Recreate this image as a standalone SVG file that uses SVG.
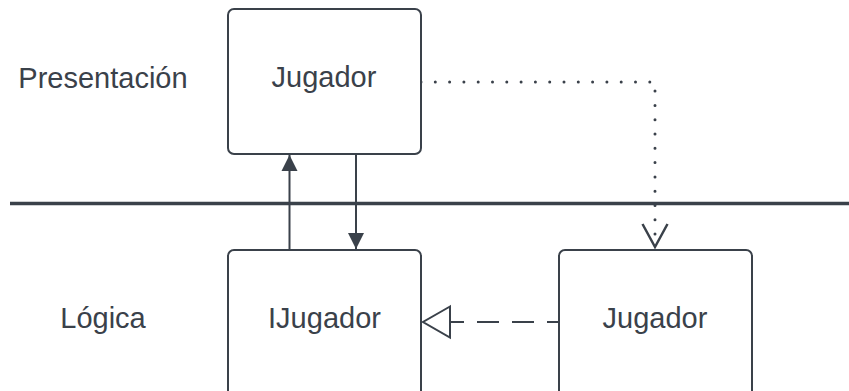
<svg xmlns="http://www.w3.org/2000/svg" width="849" height="391" viewBox="0 0 849 391">
  <style>
    .box { fill: #ffffff; stroke: #3a414a; stroke-width: 2; }
    .lbl { font-family: "Liberation Sans", Arial, sans-serif; font-size: 29px; fill: #3a414a; text-anchor: middle; }
    .edge { fill: none; stroke: #3a414a; stroke-width: 2; }
  </style>
  <defs>
    <marker id="solidHead" viewBox="0 0 16 22" refX="16" refY="11" markerWidth="16" markerHeight="22" markerUnits="userSpaceOnUse" orient="auto">
      <path d="M0,3 L16,11 L0,19 Z" fill="#3a414a"/>
    </marker>
  </defs>
  <rect width="849" height="391" fill="#ffffff"/>

  <!-- layer labels -->
  <text class="lbl" x="103" y="88">Presentación</text>
  <text class="lbl" x="103" y="328">Lógica</text>

  <!-- layer separator -->
  <line x1="10" y1="203.5" x2="849" y2="203.5" stroke="#3a414a" stroke-width="3.5"/>

  <g id="connectors">
    <!-- IJugador -> Jugador (presentation) -->
    <line class="edge" x1="289.5" y1="250" x2="289.5" y2="155" marker-end="url(#solidHead)"/>
    <!-- Jugador (presentation) -> IJugador -->
    <line class="edge" x1="356" y1="154" x2="356" y2="249" marker-end="url(#solidHead)"/>
    <!-- dotted dependency -->
    <path d="M421,82 H655 V246" fill="none" stroke="#3a414a" stroke-width="3" stroke-linecap="round" stroke-dasharray="0 14.3"/>
    <path d="M642.5,224 L655,247 L667.5,224" fill="none" stroke="#3a414a" stroke-width="2.5"/>
    <!-- realization -->
    <line class="edge" x1="559" y1="322" x2="450" y2="322" stroke-dasharray="12 13 22 13 22 13 14"/>
    <path d="M450,306.5 L423,322 L450,337.5 Z" fill="#ffffff" stroke="#3a414a" stroke-width="2"/>
  </g>

  <g id="jugador-presentacion">
    <rect class="box" x="228" y="9" width="193" height="145" rx="6"/>
    <text class="lbl" x="324" y="87">Jugador</text>
  </g>
  <g id="ijugador">
    <rect class="box" x="228" y="250" width="193" height="160" rx="6"/>
    <text class="lbl" x="324.5" y="328">IJugador</text>
  </g>
  <g id="jugador-logica">
    <rect class="box" x="559" y="250" width="193" height="160" rx="6"/>
    <text class="lbl" x="655" y="328">Jugador</text>
  </g>
</svg>
